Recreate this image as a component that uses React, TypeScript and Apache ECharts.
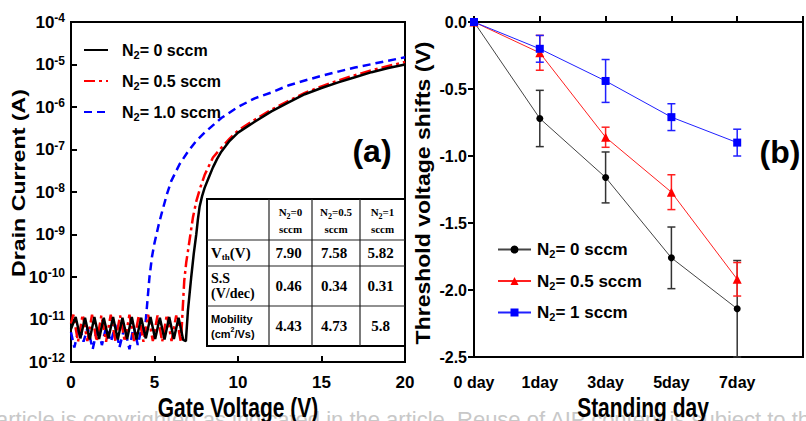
import React, { useEffect, useRef } from 'react';
import * as echarts from 'echarts';

// ---------- Panel (a): transfer curves [gate voltage (V), drain current (A)] ----------
const gateVoltageRange = [0, 20];
const currentRange = [1e-12, 1e-4];

const current0sccm: [number, number][] = [
  [0, 6e-12], [0.28, 1.15e-11], [0.56, 3.6e-12], [0.84, 1.1e-11], [1.12, 3.4e-12], [1.4, 1.15e-11],
  [1.68, 3.5e-12], [1.96, 1.1e-11], [2.24, 3.6e-12], [2.52, 1.15e-11], [2.8, 3.4e-12], [3.08, 1.1e-11],
  [3.36, 3.5e-12], [3.64, 1.15e-11], [3.92, 3.4e-12], [4.2, 1.1e-11], [4.48, 3.6e-12], [4.76, 1.15e-11],
  [5.04, 3.5e-12], [5.32, 1.1e-11], [5.6, 3.4e-12], [5.88, 1.15e-11], [6.16, 3.5e-12], [6.44, 1.1e-11],
  [6.72, 3.3e-12], [6.88, 3.1e-12], [7.0, 1.6e-11], [7.1, 4e-11], [7.2, 1e-10], [7.35, 3.5e-10],
  [7.5, 1e-9], [7.6, 2.3e-9], [7.7, 4.5e-9], [7.85, 8e-9], [8.0, 1.25e-8], [8.25, 2.2e-8], [8.5, 3.8e-8],
  [8.75, 6e-8], [9, 8.9e-8], [9.5, 1.6e-7], [10, 2.5e-7], [11, 4.5e-7], [12, 7.9e-7], [13, 1.26e-6],
  [14, 2e-6], [15, 2.8e-6], [16, 3.8e-6], [17, 5e-6], [18, 6.6e-6], [19, 8.3e-6], [20, 1e-5],
];

const current05sccm: [number, number][] = [
  [0, 8e-12], [0.14, 1.3e-11], [0.42, 3e-12], [0.7, 1.3e-11], [0.98, 3.1e-12], [1.26, 1.3e-11],
  [1.54, 3e-12], [1.82, 1.25e-11], [2.1, 3e-12], [2.38, 1.3e-11], [2.66, 3.1e-12], [2.94, 1.25e-11],
  [3.22, 3e-12], [3.5, 1.3e-11], [3.78, 3.1e-12], [4.06, 1.25e-11], [4.34, 3e-12], [4.62, 1.3e-11],
  [4.9, 3.1e-12], [5.18, 1.25e-11], [5.46, 3e-12], [5.74, 1.3e-11], [6.02, 3.1e-12], [6.3, 1.25e-11],
  [6.58, 2.9e-12], [6.68, 1.5e-11], [6.78, 8e-11], [6.9, 2.2e-10], [7.0, 4e-10], [7.15, 1e-9],
  [7.3, 2.5e-9], [7.5, 6e-9], [7.75, 1.3e-8], [8, 2.5e-8], [8.5, 6.5e-8], [9, 1.1e-7], [9.5, 1.8e-7],
  [10, 2.8e-7], [11, 5e-7], [12, 8.6e-7], [13, 1.38e-6], [14, 2.15e-6], [15, 3.05e-6], [16, 4.2e-6],
  [17, 5.6e-6], [18, 7.3e-6], [19, 9.2e-6], [20, 1.15e-5],
];

const current10sccm: [number, number][] = [
  [0, 5e-12], [0.2, 2.2e-12], [0.5, 7e-12], [0.75, 3e-12], [1.0, 6.5e-12], [1.3, 2e-12], [1.6, 7e-12],
  [1.85, 2.5e-12], [2.1, 6.5e-12], [2.4, 3e-12], [2.65, 7.5e-12], [2.9, 2.2e-12], [3.2, 6.5e-12],
  [3.5, 2e-12], [3.75, 7e-12], [4.0, 2.5e-12], [4.25, 7e-12], [4.4, 4e-12], [4.5, 1.2e-11],
  [4.6, 3.5e-11], [4.7, 1e-10], [4.85, 3e-10], [5.0, 6.3e-10], [5.25, 1.7e-9], [5.5, 4e-9],
  [5.75, 9e-9], [6.0, 1.8e-8], [6.5, 4.5e-8], [7.0, 8.9e-8], [7.5, 1.6e-7], [8.0, 2.5e-7], [9.0, 5.5e-7],
  [10, 1e-6], [11, 1.6e-6], [12, 2.2e-6], [13, 3.2e-6], [14, 4.2e-6], [15, 5.4e-6], [16, 6.8e-6],
  [17, 8.5e-6], [18, 1.02e-5], [19, 1.23e-5], [20, 1.48e-5],
];

const seriesNamesA = ['a:= 0 sccm', 'a:= 0.5 sccm', 'a:= 1.0 sccm'];

// ---------- Panel (b): threshold voltage shift vs standing day ----------
const dayLabels = ['0 day', '1day', '3day', '5day', '7day'];
const shift0sccm = [0, -0.72, -1.16, -1.76, -2.14];
const err0sccm = [0, 0.21, 0.19, 0.23, 0.36];
const shift05sccm = [0, -0.23, -0.86, -1.27, -1.92];
const err05sccm = [0, 0.13, 0.075, 0.13, 0.125];
const shift1sccm = [0, -0.2, -0.44, -0.71, -0.9];
const err1sccm = [0, 0.1, 0.16, 0.1, 0.1];
const seriesNamesB = ['b:= 0 sccm', 'b:= 0.5 sccm', 'b:= 1 sccm'];

// ---------- Inset table ----------
const tableHeads = ['=0', '=0.5', '=1'];
const tableValues = [
  ['7.90', '7.58', '5.82'],
  ['0.46', '0.34', '0.31'],
  ['4.43', '4.73', '5.8'],
];

const watermark =
  'article is copyrighted as indicated in the article. Reuse of AIP content is subject to the terms at: http://scitation.aip.org';

const SANS = "'Liberation Sans', Arial, Helvetica, sans-serif";
const SERIF = "'Liberation Serif', 'Times New Roman', Times, serif";

function errorBarSeries(values: number[], errs: number[], color: string) {
  return {
    type: 'custom',
    xAxisIndex: 1,
    yAxisIndex: 1,
    silent: true,
    z: 1,
    data: values.map((v, i) => [i, v, errs[i]]),
    encode: { x: 0, y: 1 },
    renderItem: (_p: any, api: any) => {
      const x = api.value(0);
      const y = api.value(1);
      const e = api.value(2);
      if (!e) return null;
      const top = api.coord([x, y + e]);
      const bot = api.coord([x, y - e]);
      const w = 4;
      const style = { stroke: color, lineWidth: 1.5 };
      return {
        type: 'group',
        children: [
          { type: 'line', shape: { x1: top[0], y1: top[1], x2: bot[0], y2: bot[1] }, style },
          { type: 'line', shape: { x1: top[0] - w, y1: top[1], x2: top[0] + w, y2: top[1] }, style },
          { type: 'line', shape: { x1: bot[0] - w, y1: bot[1], x2: bot[0] + w, y2: bot[1] }, style },
        ],
      };
    },
  };
}

function txt(x: number, y: number, text: string, style: any, extra: any = {}) {
  return {
    type: 'text',
    x,
    y,
    ...extra,
    style: {
      text,
      fill: '#000',
      align: 'center',
      verticalAlign: 'middle',
      textAlign: 'center',
      textVerticalAlign: 'middle',
      ...style,
    },
  };
}

function buildTable() {
  const colX = [207, 269, 312, 360, 405];
  const rowY = [199, 240, 266, 306, 346];
  const children: any[] = [];
  children.push({
    type: 'rect',
    shape: { x: colX[0], y: rowY[0], width: colX[4] - colX[0], height: rowY[4] - rowY[0] },
    style: { fill: '#fff', stroke: '#000', lineWidth: 2 },
  });
  for (let i = 1; i < 4; i++) {
    children.push({
      type: 'line',
      shape: { x1: colX[i], y1: rowY[0], x2: colX[i], y2: rowY[4] },
      style: { stroke: '#222', lineWidth: 1.2 },
    });
    children.push({
      type: 'line',
      shape: { x1: colX[0], y1: rowY[i], x2: colX[4], y2: rowY[i] },
      style: { stroke: '#222', lineWidth: 1.2 },
    });
  }
  const serifRich = {
    t: { fontFamily: SERIF, fontWeight: 'bold', fontSize: 11, lineHeight: 17, fill: '#000' },
    s: { fontFamily: SERIF, fontWeight: 'bold', fontSize: 8, lineHeight: 17, verticalAlign: 'bottom', fill: '#000' },
    v: { fontFamily: SERIF, fontWeight: 'bold', fontSize: 15, lineHeight: 17, fill: '#000' },
    vs: { fontFamily: SERIF, fontWeight: 'bold', fontSize: 9, lineHeight: 17, verticalAlign: 'bottom', fill: '#000' },
    r: { fontFamily: SERIF, fontWeight: 'bold', fontSize: 14, lineHeight: 15, fill: '#000' },
    m: { fontFamily: SANS, fontWeight: 'bold', fontSize: 11, lineHeight: 15, fill: '#000' },
    ms: { fontFamily: SANS, fontWeight: 'bold', fontSize: 7, lineHeight: 15, verticalAlign: 'top', fill: '#000' },
  };
  tableHeads.forEach((h, i) => {
    const cx = (colX[i + 1] + colX[i + 2]) / 2;
    children.push(txt(cx, 220, `{t|N}{s|2}{t|${h}}\n{t|sccm}`, { rich: serifRich }));
  });
  const rowCenters = [253, 286, 326];
  const rowLabels = ['{v|V}{vs|th}{v|(V)}', '{r|S.S}\n{r|(V/dec)}', '{m|Mobility}\n{m|(cm}{ms|2}{m|/Vs)}'];
  rowLabels.forEach((l, r) => {
    children.push(txt(211, rowCenters[r], l, { rich: serifRich, align: 'left', textAlign: 'left' }));
    tableValues[r].forEach((v, c) => {
      const cx = (colX[c + 1] + colX[c + 2]) / 2 - 2;
      children.push(
        txt(cx, rowCenters[r], v, { fontFamily: SERIF, fontWeight: 'bold', fontSize: 15 })
      );
    });
  });
  return { type: 'group', z: 50, children };
}

export default function App() {
  const ref = useRef<HTMLDivElement>(null);

  useEffect(() => {
    document.body.style.margin = '0';
    if (!ref.current) return;
    const chart = echarts.init(ref.current, undefined, { renderer: 'svg' });

    const legendRichA = {
      b: { fontFamily: SANS, fontWeight: 'bold', fontSize: 16, color: '#000', lineHeight: 20 },
      s: { fontFamily: SANS, fontWeight: 'bold', fontSize: 11, color: '#000', lineHeight: 20, verticalAlign: 'bottom' },
      p: { width: 9 },
    };
    const legendRichB = {
      b: { fontFamily: SANS, fontWeight: 'bold', fontSize: 17, color: '#000', lineHeight: 20 },
      s: { fontFamily: SANS, fontWeight: 'bold', fontSize: 11, color: '#000', lineHeight: 20, verticalAlign: 'bottom' },
      p: { width: 1 },
    };
    const legendFmt = (name: string) => `{p|}{b|N}{s|2}{b|${name.split(':')[1]}}`;

    const axisLineStyle = { color: '#000', width: 2 };

    const option: any = {
      animation: false,
      backgroundColor: '#fff',
      grid: [
        { left: 71, top: 22, width: 334, height: 340, show: true, borderColor: '#000', borderWidth: 2, backgroundColor: 'transparent' },
        { left: 474, top: 22, width: 337, height: 335, show: true, borderColor: '#000', borderWidth: 2, backgroundColor: 'transparent' },
      ],
      xAxis: [
        {
          type: 'value',
          gridIndex: 0,
          min: gateVoltageRange[0],
          max: gateVoltageRange[1],
          interval: 5,
          axisLine: { lineStyle: axisLineStyle },
          axisTick: { inside: true, length: 6, lineStyle: { width: 2, color: '#000' } },
          axisLabel: { fontFamily: SANS, fontWeight: 'bold', fontSize: 17, color: '#000', margin: 12 },
          splitLine: { show: false },
        },
        {
          type: 'value',
          gridIndex: 1,
          min: 0,
          max: 5,
          interval: 1,
          axisLine: { lineStyle: axisLineStyle },
          axisTick: { inside: true, length: 6, lineStyle: { width: 2, color: '#000' } },
          axisLabel: {
            fontFamily: SANS,
            fontWeight: 'bold',
            fontSize: 16,
            color: '#000',
            margin: 17,
            formatter: (v: number) => dayLabels[v] ?? '',
          },
          splitLine: { show: false },
        },
      ],
      yAxis: [
        {
          type: 'log',
          gridIndex: 0,
          logBase: 10,
          min: currentRange[0],
          max: currentRange[1],
          axisLine: { lineStyle: axisLineStyle },
          axisTick: { inside: true, length: 6, lineStyle: { width: 2, color: '#000' } },
          axisLabel: {
            margin: 6,
            formatter: (v: number) => `{b|10}{s|${Math.round(Math.log10(v))}}`,
            rich: {
              b: { fontFamily: SANS, fontWeight: 'bold', fontSize: 17, color: '#000', lineHeight: 20 },
              s: { fontFamily: SANS, fontWeight: 'bold', fontSize: 12, color: '#000', lineHeight: 12, verticalAlign: 'top' },
            },
          },
          splitLine: { show: false },
          minorTick: { show: false },
        },
        {
          type: 'value',
          gridIndex: 1,
          min: -2.5,
          max: 0,
          interval: 0.5,
          axisLine: { lineStyle: axisLineStyle },
          axisTick: { inside: false, length: 6, lineStyle: { width: 2, color: '#000' } },
          axisLabel: {
            fontFamily: SANS,
            fontWeight: 'bold',
            fontSize: 16,
            color: '#000',
            margin: 7,
            formatter: (v: number) => v.toFixed(1),
          },
          splitLine: { show: false },
        },
      ],
      legend: [
        {
          data: seriesNamesA,
          orient: 'vertical',
          left: 78,
          top: 37,
          itemWidth: 24,
          itemHeight: 14,
          itemGap: 13,
          formatter: legendFmt,
          textStyle: { rich: legendRichA },
          itemStyle: { opacity: 0 },
          selectedMode: false,
        },
        {
          data: seriesNamesB,
          orient: 'vertical',
          left: 492,
          top: 236,
          itemWidth: 33,
          itemHeight: 10,
          itemGap: 13,
          formatter: legendFmt,
          textStyle: { rich: legendRichB },
          selectedMode: false,
        },
      ],
      series: [
        {
          name: seriesNamesA[0],
          type: 'line',
          xAxisIndex: 0,
          yAxisIndex: 0,
          data: current0sccm,
          symbol: 'none',
          color: '#000',
          lineStyle: { color: '#000', width: 2.5 },
          z: 4,
        },
        {
          name: seriesNamesA[1],
          type: 'line',
          xAxisIndex: 0,
          yAxisIndex: 0,
          data: current05sccm,
          symbol: 'none',
          color: '#ff0000',
          lineStyle: { color: '#ff0000', width: 2.5, type: [11, 4, 3, 4] },
          z: 3,
        },
        {
          name: seriesNamesA[2],
          type: 'line',
          xAxisIndex: 0,
          yAxisIndex: 0,
          data: current10sccm,
          symbol: 'none',
          color: '#0000ff',
          lineStyle: { color: '#0000ff', width: 2.5, type: [8, 5] },
          z: 2,
        },
        errorBarSeries(shift0sccm, err0sccm, '#333'),
        errorBarSeries(shift05sccm, err05sccm, '#ff2020'),
        errorBarSeries(shift1sccm, err1sccm, '#2020ff'),
        {
          name: seriesNamesB[0],
          type: 'line',
          xAxisIndex: 1,
          yAxisIndex: 1,
          data: shift0sccm.map((v, i) => [i, v]),
          symbol: 'circle',
          symbolSize: 7,
          color: '#000',
          lineStyle: { color: '#444', width: 1 },
          z: 3,
        },
        {
          name: seriesNamesB[1],
          type: 'line',
          xAxisIndex: 1,
          yAxisIndex: 1,
          data: shift05sccm.map((v, i) => [i, v]),
          symbol: 'triangle',
          symbolSize: 9,
          color: '#ff0000',
          lineStyle: { color: '#ff2020', width: 1 },
          z: 4,
        },
        {
          name: seriesNamesB[2],
          type: 'line',
          xAxisIndex: 1,
          yAxisIndex: 1,
          data: shift1sccm.map((v, i) => [i, v]),
          symbol: 'rect',
          symbolSize: 8,
          color: '#0000ff',
          lineStyle: { color: '#2020ff', width: 1 },
          z: 5,
        },
      ],
      graphic: [
        txt(-4, 408, watermark, {
          fontFamily: SANS,
          fontSize: 22,
          fill: '#c8c8c8',
          align: 'left',
          textAlign: 'left',
          verticalAlign: 'top',
          textVerticalAlign: 'top',
        }, { z: 0 }),
        buildTable(),
        txt(372, 151, '(a)', { fontFamily: SANS, fontWeight: 'bold', fontSize: 32 }, { z: 60 }),
        txt(780, 152, '(b)', { fontFamily: SANS, fontWeight: 'bold', fontSize: 32 }, { z: 60 }),
        txt(238, 407, 'Gate Voltage (V)', { fontFamily: SANS, fontWeight: 'bold', fontSize: 21 }, { scaleY: 1.33, z: 60 }),
        txt(643, 407, 'Standing day', { fontFamily: SANS, fontWeight: 'bold', fontSize: 21 }, { scaleY: 1.33, z: 60 }),
        txt(18, 183, 'Drain Current (A)', { fontFamily: SANS, fontWeight: 'bold', fontSize: 19 }, { rotation: Math.PI / 2, scaleX: 1.22, z: 60 }),
        txt(423, 193, 'Threshold voltage shifts (V)', { fontFamily: SANS, fontWeight: 'bold', fontSize: 20 }, { rotation: Math.PI / 2, scaleX: 1.15, z: 60 }),
      ],
    };

    chart.setOption(option);
    return () => chart.dispose();
  }, []);

  return <div ref={ref} style={{ width: 806, height: 421, position: 'absolute', left: 0, top: 0, background: '#fff' }} />;
}
